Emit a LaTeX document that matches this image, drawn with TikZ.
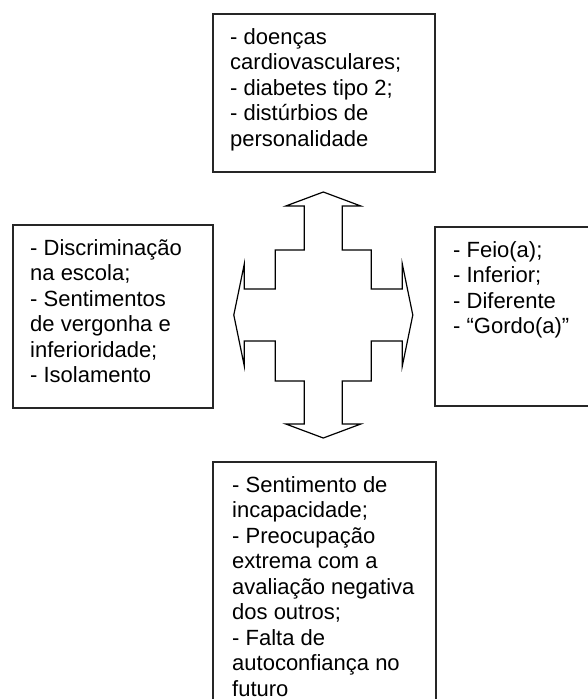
\documentclass[tikz,border=0pt]{standalone}
\usepackage{fontspec}
\setmainfont{Liberation Sans}
\usetikzlibrary{positioning}

\begin{document}
\begin{tikzpicture}[
    x=1pt, y=-1pt,
    box/.style={draw=black!85, line width=1.5pt, fill=white, anchor=north west,
      inner sep=0pt},
    txt/.style={anchor=north west, align=left, inner sep=0pt,
      font=\fontsize{22}{25.5}\selectfont},
    quad/.style={draw=black, line width=1.2pt, fill=white, line join=miter}
  ]
  \clip (0,0) rectangle (588,699);
  %---- boxes ----
  \node[box, minimum width=222pt, minimum height=158pt] (topbox) at (212,13) {};
  \node[box, minimum width=200pt, minimum height=183pt] (leftbox) at (12,224) {};
  \node[box, minimum width=190pt, minimum height=179pt] (rightbox) at (434,226) {};
  \node[box, minimum width=223pt, minimum height=260pt] (botbox) at (212,461) {};
  %---- texts ----
  \node[txt, below right=15pt and 18pt of topbox.north west] (toptext)
    {- doenças\\cardiovasculares;\\- diabetes tipo 2;\\- distúrbios de\\personalidade};
  \node[txt, below right=15pt and 18pt of leftbox.north west] (lefttext)
    {- Discriminação\\na escola;\\- Sentimentos\\de vergonha e\\inferioridade;\\- Isolamento};
  \node[txt, below right=15pt and 19pt of rightbox.north west] (righttext)
    {- Feio(a);\\- Inferior;\\- Diferente\\- “Gordo(a)”};
  \node[txt, below right=15pt and 20pt of botbox.north west] (bottext)
    {- Sentimento de\\incapacidade;\\- Preocupação\\extrema com a\\avaliação negativa\\dos outros;\\- Falta de\\autoconfiança no\\futuro};
  %---- four-way arrow ----
  \begin{scope}[shift={(323.3,315)}]
    \draw[quad] (0,-123) -- (37.5,-109) -- (19,-109) -- (19,-65) -- (48,-65)
      -- (48,-26) -- (79,-26) -- (79,-51) -- (89.5,0) -- (79,51) -- (79,26)
      -- (48,26) -- (48,66) -- (19,66) -- (19,109) -- (37.5,109) -- (0,123)
      -- (-37.5,109) -- (-19,109) -- (-19,66) -- (-48,66) -- (-48,26)
      -- (-79,26) -- (-79,51) -- (-89.5,0) -- (-79,-51) -- (-79,-26)
      -- (-48,-26) -- (-48,-65) -- (-19,-65) -- (-19,-109) -- (-37.5,-109)
      -- cycle;
  \end{scope}
\end{tikzpicture}
\end{document}
